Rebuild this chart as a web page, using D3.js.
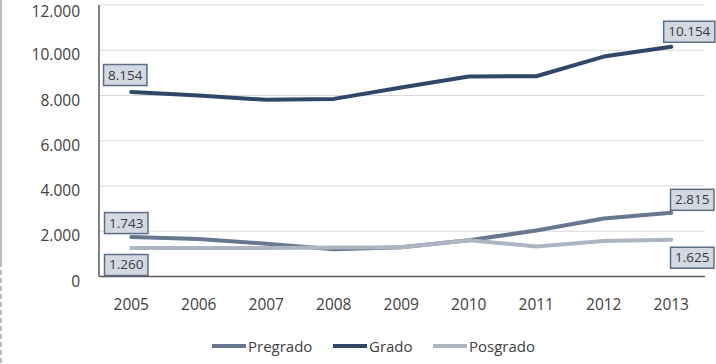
<!DOCTYPE html>
<html>
<head>
<meta charset="utf-8">
<script src="https://cdn.jsdelivr.net/npm/d3@7"></script>
<style>
  body { margin: 0; background: #fff; }
  svg { display: block; font-family: "Open Sans", sans-serif; }
</style>
</head>
<body>
<svg id="chart" width="716" height="364"></svg>
<script>
// data
const years = ["2005", "2006", "2007", "2008", "2009", "2010", "2011", "2012", "2013"];
const pregrado = [1743, 1660, 1450, 1200, 1290, 1600, 2030, 2560, 2815];
const grado = [8154, 8000, 7810, 7850, 8350, 8840, 8850, 9720, 10154];
const posgrado = [1260, 1260, 1260, 1280, 1290, 1600, 1330, 1570, 1625];
const yTicks = [0, 2000, 4000, 6000, 8000, 10000, 12000];

const series = [
  {name: "Pregrado", values: pregrado, color: "#66778f"},
  {name: "Grado", values: grado, color: "#2f4868"},
  {name: "Posgrado", values: posgrado, color: "#adb5c2"}
];

// which point gets a value box, and where the box sits relative to it
const boxes = [
  {s: 1, i: 0, dx: -6, dy: -17},
  {s: 1, i: 8, dx: 18, dy: -15},
  {s: 0, i: 0, dx: -5, dy: -14},
  {s: 2, i: 0, dx: -5, dy: 17},
  {s: 0, i: 8, dx: 21, dy: -13},
  {s: 2, i: 8, dx: 21, dy: 18}
];

const loc = d3.formatLocale({decimal: ",", thousands: ".", grouping: [3], currency: ["", ""]});
const fmt = loc.format(",");

const svg = d3.select("#chart");

const x = d3.scalePoint().domain(years).range([97.5, 705]).padding(0.5);
const y = d3.scaleLinear().domain([0, 12000]).range([276.5, 5]);

// left page edge line
svg.append("line").attr("x1", 1).attr("x2", 1).attr("y1", 0).attr("y2", 262)
  .attr("stroke", "#a3a7ba").attr("stroke-width", 1.5);
svg.append("line").attr("x1", 1).attr("x2", 1).attr("y1", 262).attr("y2", 364)
  .attr("stroke", "#a3a7ba").attr("stroke-width", 1.5).attr("stroke-dasharray", "5,3");

// gridlines
svg.append("g").selectAll("line").data(yTicks.filter(d => d > 0)).join("line")
  .attr("x1", 99).attr("x2", 705)
  .attr("y1", d => y(d)).attr("y2", d => y(d))
  .attr("stroke", "#d9d9d9").attr("stroke-width", 1);

// y axis labels (top one nudged so it stays inside the page)
svg.append("g").selectAll("text").data(yTicks).join("text")
  .attr("x", 80).attr("y", d => Math.max(y(d) + 10, 17))
  .attr("text-anchor", "end")
  .attr("font-size", 15.5).attr("fill", "#404040")
  .text(d => fmt(d));

// axis lines
svg.append("line").attr("x1", 99).attr("x2", 99).attr("y1", 5).attr("y2", y(0))
  .attr("stroke", "#595959").attr("stroke-width", 1.5);
svg.append("line").attr("x1", 99).attr("x2", 705).attr("y1", y(0)).attr("y2", y(0))
  .attr("stroke", "#595959").attr("stroke-width", 1.5);

// x axis labels
svg.append("g").selectAll("text").data(years).join("text")
  .attr("x", d => x(d)).attr("y", 310)
  .attr("text-anchor", "middle")
  .attr("font-size", 15.5).attr("fill", "#404040")
  .text(d => d);

// lines
const line = d3.line()
  .x((d, i) => x(years[i]))
  .y(d => y(d));

svg.append("g").selectAll("path").data(series).join("path")
  .attr("d", d => line(d.values))
  .attr("fill", "none")
  .attr("stroke", d => d.color)
  .attr("stroke-width", 4)
  .attr("stroke-linecap", "round")
  .attr("stroke-linejoin", "round");

// value boxes
boxes.forEach(function (b) {
  const v = series[b.s].values[b.i];
  const cx = x(years[b.i]) + b.dx;
  const cy = y(v) + b.dy;
  const g = svg.append("g");
  const t = g.append("text")
    .attr("x", cx).attr("y", cy + 4.5)
    .attr("text-anchor", "middle")
    .attr("font-size", 13.5).attr("fill", "#3a3a3a")
    .text(fmt(v));
  const w = t.node().getComputedTextLength() + 9;
  g.insert("rect", "text")
    .attr("x", cx - w / 2).attr("y", cy - 10.5)
    .attr("width", w).attr("height", 21)
    .attr("fill", "#d3d9e3")
    .attr("stroke", "#5d6d84").attr("stroke-width", 1.5);
});

// legend
const legX = [212, 333, 433];
const leg = svg.append("g").selectAll("g").data(series).join("g")
  .attr("transform", (d, i) => "translate(" + legX[i] + ",346)");
leg.append("line").attr("x1", 0).attr("x2", 34).attr("y1", 0).attr("y2", 0)
  .attr("stroke", d => d.color).attr("stroke-width", 4);
leg.append("text").attr("x", 36).attr("y", 6)
  .attr("font-size", 15).attr("fill", "#404040")
  .text(d => d.name);
</script>
</body>
</html>
